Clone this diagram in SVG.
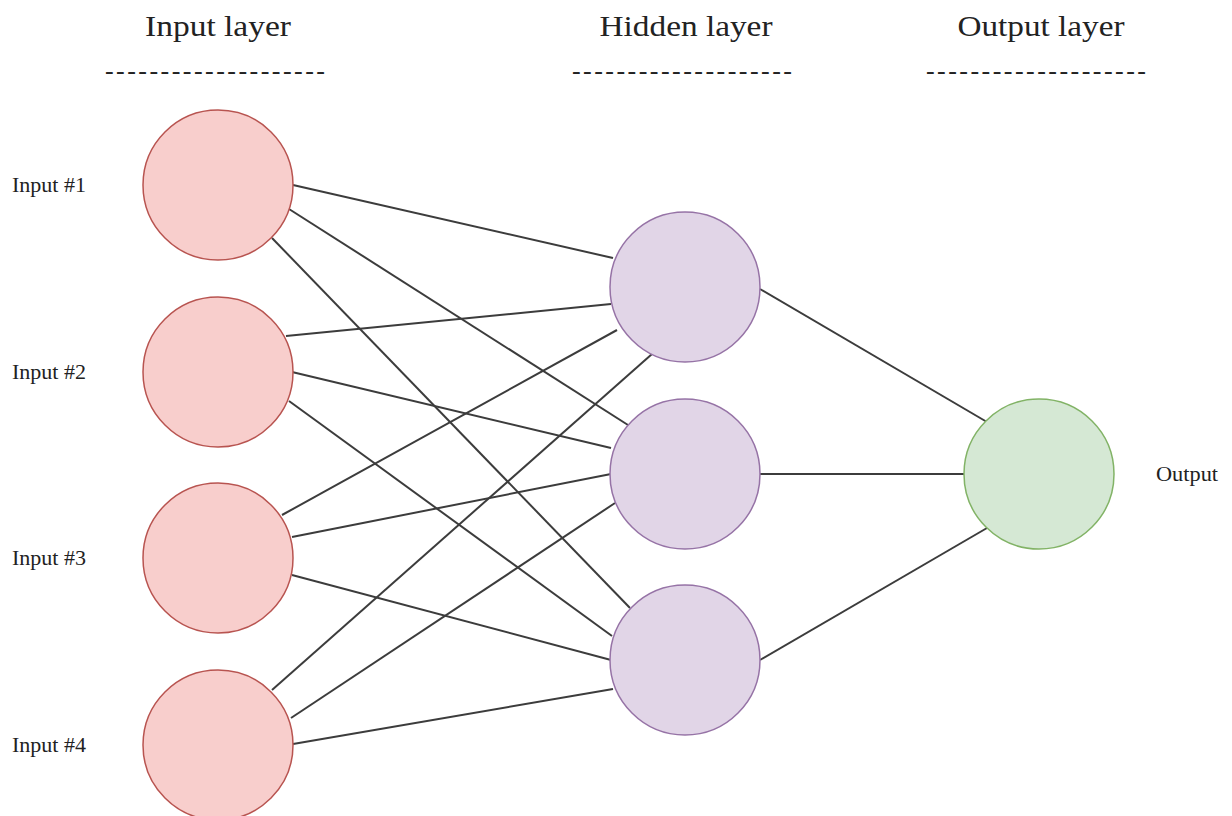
<svg xmlns="http://www.w3.org/2000/svg" width="1232" height="816" viewBox="0 0 1232 816">
  <style>
    .title { font-family: "Liberation Serif", "Times New Roman", serif; font-size: 30px; fill: #222; text-anchor: middle; }
    .rule { font-family: "Liberation Serif", "Times New Roman", serif; font-size: 26px; fill: #222; text-anchor: middle; }
    .label { font-family: "Liberation Serif", "Times New Roman", serif; font-size: 21px; fill: #222; }
    .in { fill: #f8cecc; stroke: #b85450; stroke-width: 1.5; }
    .hid { fill: #e1d5e7; stroke: #9673a6; stroke-width: 1.5; }
    .out { fill: #d5e8d4; stroke: #82b366; stroke-width: 1.5; }
    .edge { stroke: #3c3c3c; stroke-width: 2; fill: none; }
  </style>
  <rect width="1232" height="816" fill="#ffffff"/>

  <!-- layer headings -->
  <g id="heading-input">
    <text class="title" x="218" y="36" textLength="146" lengthAdjust="spacingAndGlyphs">Input layer</text>
    <text class="rule" x="215" y="79" textLength="220" lengthAdjust="spacing">--------------------</text>
  </g>
  <g id="heading-hidden">
    <text class="title" x="686" y="36" textLength="173" lengthAdjust="spacingAndGlyphs">Hidden layer</text>
    <text class="rule" x="682" y="79" textLength="220" lengthAdjust="spacing">--------------------</text>
  </g>
  <g id="heading-output">
    <text class="title" x="1041" y="36" textLength="167" lengthAdjust="spacingAndGlyphs">Output layer</text>
    <text class="rule" x="1036" y="79" textLength="220" lengthAdjust="spacing">--------------------</text>
  </g>

  <!-- connections between layers -->
  <g id="connectors">
    <line class="edge" x1="293" y1="185" x2="613" y2="258"/>
    <line class="edge" x1="289" y1="209" x2="628" y2="425"/>
    <line class="edge" x1="272" y1="238" x2="630" y2="608"/>

    <line class="edge" x1="286" y1="336" x2="611" y2="304"/>
    <line class="edge" x1="292" y1="372" x2="611" y2="448"/>
    <line class="edge" x1="289" y1="401" x2="612" y2="636"/>

    <line class="edge" x1="282" y1="515" x2="617" y2="330"/>
    <line class="edge" x1="292" y1="537" x2="611" y2="474"/>
    <line class="edge" x1="292" y1="575" x2="611" y2="660"/>

    <line class="edge" x1="272" y1="690" x2="652" y2="354"/>
    <line class="edge" x1="291" y1="718" x2="615" y2="503"/>
    <line class="edge" x1="293" y1="744" x2="613" y2="689"/>

    <line class="edge" x1="760" y1="289" x2="987" y2="422"/>
    <line class="edge" x1="760" y1="474" x2="964" y2="474"/>
    <line class="edge" x1="760" y1="660" x2="987" y2="528"/>
  </g>

  <!-- input layer -->
  <g id="input-1">
    <circle class="in" cx="218" cy="185" r="75"/>
    <text class="label" x="12" y="192" textLength="74" lengthAdjust="spacingAndGlyphs">Input #1</text>
  </g>
  <g id="input-2">
    <circle class="in" cx="218" cy="372" r="75"/>
    <text class="label" x="12" y="379" textLength="74" lengthAdjust="spacingAndGlyphs">Input #2</text>
  </g>
  <g id="input-3">
    <circle class="in" cx="218" cy="558" r="75"/>
    <text class="label" x="12" y="565" textLength="74" lengthAdjust="spacingAndGlyphs">Input #3</text>
  </g>
  <g id="input-4">
    <circle class="in" cx="218" cy="745" r="75"/>
    <text class="label" x="12" y="752" textLength="74" lengthAdjust="spacingAndGlyphs">Input #4</text>
  </g>

  <!-- hidden layer -->
  <g id="hidden-1">
    <circle class="hid" cx="685" cy="287" r="75"/>
  </g>
  <g id="hidden-2">
    <circle class="hid" cx="685" cy="474" r="75"/>
  </g>
  <g id="hidden-3">
    <circle class="hid" cx="685" cy="660" r="75"/>
  </g>

  <!-- output layer -->
  <g id="output">
    <circle class="out" cx="1039" cy="474" r="75"/>
    <text class="label" x="1156" y="481" textLength="62" lengthAdjust="spacingAndGlyphs">Output</text>
  </g>
</svg>
